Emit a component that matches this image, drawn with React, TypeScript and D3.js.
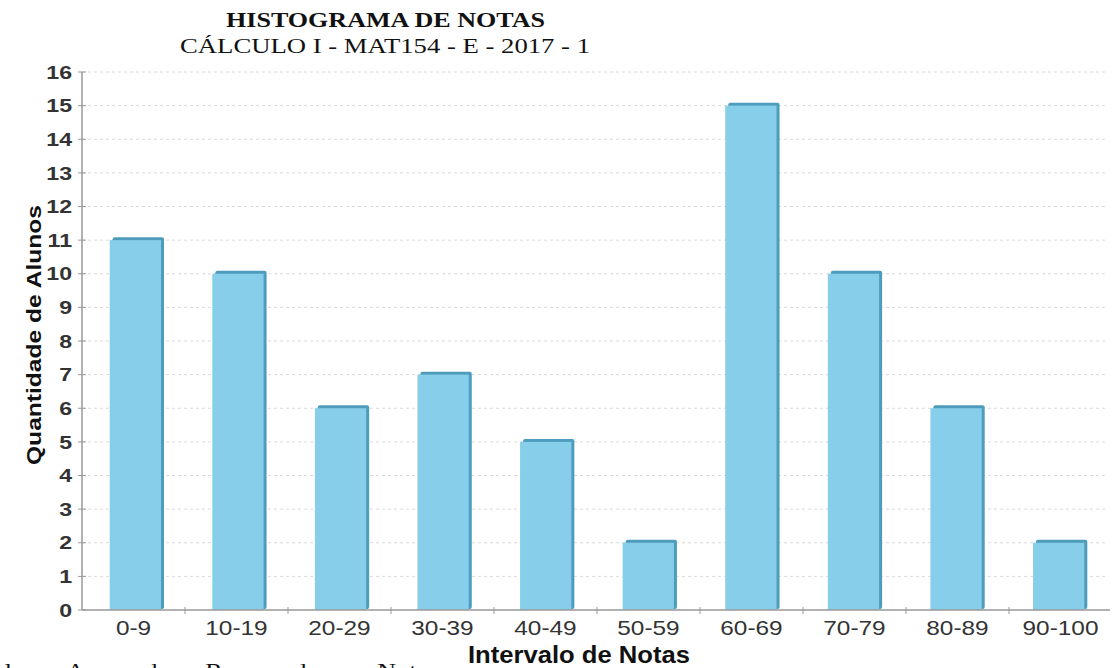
import * as d3 from 'd3';
import { useEffect, useRef } from 'react';

const categories = ['0-9', '10-19', '20-29', '30-39', '40-49', '50-59', '60-69', '70-79', '80-89', '90-100'];
const counts = [11, 10, 6, 7, 5, 2, 15, 10, 6, 2];
const yTicks = d3.range(0, 17);

const WIDTH = 1112;
const HEIGHT = 668;
const SANS = '"Liberation Sans", Arial, sans-serif';
const SERIF = '"Liberation Serif", "Times New Roman", serif';

export default function App() {
  const svgRef = useRef<SVGSVGElement | null>(null);

  useEffect(() => {
    if (!svgRef.current) return;
    const svg = d3.select(svgRef.current);
    svg.selectAll('*').remove();

    const left = 82;
    const right = 1112;
    const top = 72;
    const bottom = 610;

    const x = d3.scaleBand<string>().domain(categories).range([left, right]).paddingInner(0.5).paddingOuter(0.27);
    const xStep = d3.scaleBand<string>().domain(categories).range([left, right]);
    const y = d3.scaleLinear().domain([0, 16]).range([bottom, top]);

    svg.append('rect').attr('width', WIDTH).attr('height', HEIGHT).attr('fill', '#fff');

    // grid
    svg
      .append('g')
      .selectAll('line')
      .data(yTicks.filter((t) => t > 0))
      .join('line')
      .attr('x1', left)
      .attr('x2', 1108)
      .attr('y1', (d) => y(d))
      .attr('y2', (d) => y(d))
      .attr('stroke', '#dadada')
      .attr('stroke-dasharray', '3,3')
      .attr('stroke-width', 1);

    // bars with a small 3D side
    const depth = 3;
    const bars = svg.append('g').selectAll('g').data(counts).join('g');
    bars
      .append('rect')
      .attr('x', (_, i) => x(categories[i])! + depth)
      .attr('y', (d) => y(d) - depth)
      .attr('width', x.bandwidth())
      .attr('height', (d) => bottom - y(d) + depth - 1)
      .attr('rx', 2)
      .attr('fill', '#4e9cbb');
    bars
      .append('rect')
      .attr('x', (_, i) => x(categories[i])!)
      .attr('y', (d) => y(d))
      .attr('width', x.bandwidth())
      .attr('height', (d) => bottom - y(d))
      .attr('fill', '#87ceeb');

    // y axis
    const yAxis = svg.append('g');
    yAxis
      .append('line')
      .attr('x1', left)
      .attr('x2', left)
      .attr('y1', top)
      .attr('y2', bottom)
      .attr('stroke', '#999')
      .attr('stroke-width', 1.5);
    yAxis
      .selectAll('line.tick')
      .data(yTicks)
      .join('line')
      .attr('class', 'tick')
      .attr('x1', left - 4)
      .attr('x2', left + 4)
      .attr('y1', (d) => y(d))
      .attr('y2', (d) => y(d))
      .attr('stroke', '#999');
    yAxis
      .selectAll('text')
      .data(yTicks)
      .join('text')
      .attr('transform', (d) => `translate(72, ${y(d)}) scale(1.25, 1)`)
      .attr('dy', '0.36em')
      .attr('text-anchor', 'end')
      .attr('font-family', SANS)
      .attr('font-size', 18.5)
      .attr('font-weight', 'bold')
      .attr('fill', '#333')
      .text((d) => d);

    // x axis
    const xAxis = svg.append('g');
    xAxis
      .append('line')
      .attr('x1', left)
      .attr('x2', 1110)
      .attr('y1', bottom)
      .attr('y2', bottom)
      .attr('stroke', '#999')
      .attr('stroke-width', 1.5);
    xAxis
      .selectAll('line.tick')
      .data(categories.slice(1))
      .join('line')
      .attr('class', 'tick')
      .attr('x1', (d) => xStep(d)!)
      .attr('x2', (d) => xStep(d)!)
      .attr('y1', bottom - 3)
      .attr('y2', bottom + 4)
      .attr('stroke', '#999');
    xAxis
      .selectAll('text')
      .data(categories)
      .join('text')
      .attr('transform', (d) => `translate(${xStep(d)! + xStep.bandwidth() / 2}, 635) scale(1.22, 1)`)
      .attr('text-anchor', 'middle')
      .attr('font-family', SANS)
      .attr('font-size', 20)
      .attr('fill', '#333')
      .text((d) => d);

    // titles
    svg
      .append('text')
      .attr('x', 226)
      .attr('y', 27)
      .attr('textLength', 319)
      .attr('lengthAdjust', 'spacingAndGlyphs')
      .attr('font-family', SERIF)
      .attr('font-weight', 'bold')
      .attr('font-size', 22)
      .attr('fill', '#111')
      .text('HISTOGRAMA DE NOTAS');
    svg
      .append('text')
      .attr('x', 180)
      .attr('y', 53)
      .attr('textLength', 410)
      .attr('lengthAdjust', 'spacingAndGlyphs')
      .attr('font-family', SERIF)
      .attr('font-size', 22)
      .attr('fill', '#111')
      .text('CÁLCULO I - MAT154 - E - 2017 - 1');

    svg
      .append('text')
      .attr('transform', `translate(41, 335) rotate(-90)`)
      .attr('text-anchor', 'middle')
      .attr('textLength', 260)
      .attr('lengthAdjust', 'spacingAndGlyphs')
      .attr('font-family', SANS)
      .attr('font-weight', 'bold')
      .attr('font-size', 21)
      .attr('fill', '#111')
      .text('Quantidade de Alunos');

    svg
      .append('text')
      .attr('x', 468)
      .attr('y', 663)
      .attr('textLength', 222)
      .attr('lengthAdjust', 'spacingAndGlyphs')
      .attr('font-family', SANS)
      .attr('font-weight', 'bold')
      .attr('font-size', 24)
      .attr('fill', '#111')
      .text('Intervalo de Notas');

    svg
      .append('text')
      .attr('x', -14)
      .attr('y', 678)
      .attr('textLength', 442)
      .attr('lengthAdjust', 'spacingAndGlyphs')
      .attr('font-family', SERIF)
      .attr('font-size', 21)
      .attr('fill', '#111')
      .text('Alunos Aprovados e Reprovados por Nota');
  }, []);

  return (
    <svg
      ref={svgRef}
      width={WIDTH}
      height={HEIGHT}
      style={{ position: 'absolute', left: 0, top: 0, display: 'block' }}
    />
  );
}
